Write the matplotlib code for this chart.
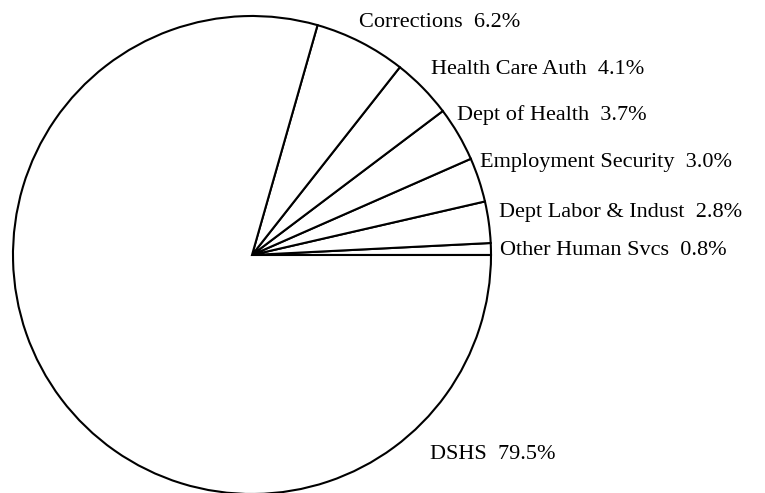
import matplotlib
matplotlib.use('Agg')
import matplotlib.pyplot as plt

# budget shares, counter-clockwise from 3 o'clock
agencies = ['Other Human Svcs', 'Dept Labor & Indust', 'Employment Security',
            'Dept of Health', 'Health Care Auth', 'Corrections', 'DSHS']
shares = [0.8, 2.8, 3.0, 3.7, 4.1, 6.2, 79.5]

# label anchors (left edge, baseline) in pixels from the top-left corner
label_x = [500, 499, 480, 457, 431, 359, 430]
label_y = [255, 217, 167, 120, 74, 27, 459]

W, H = 765, 493
plt.rcParams['font.family'] = ['Liberation Serif', 'DejaVu Serif']

fig = plt.figure(figsize=(W / 100, H / 100), dpi=100)
ax = fig.add_axes([0, 0, 1, 1])

ax.pie(shares, startangle=0, counterclock=True, center=(252, H - 255), radius=239,
       colors=['white'] * len(shares),
       wedgeprops=dict(edgecolor='black', linewidth=1.5))

for name, val, x, y in zip(agencies, shares, label_x, label_y):
    ax.text(x, H - y, f'{name}  {val:.1f}%', fontsize=16, ha='left', va='baseline')

ax.set_xlim(0, W)
ax.set_ylim(0, H)
ax.set_aspect('equal')
ax.axis('off')

fig.savefig('out.png', dpi=100)
